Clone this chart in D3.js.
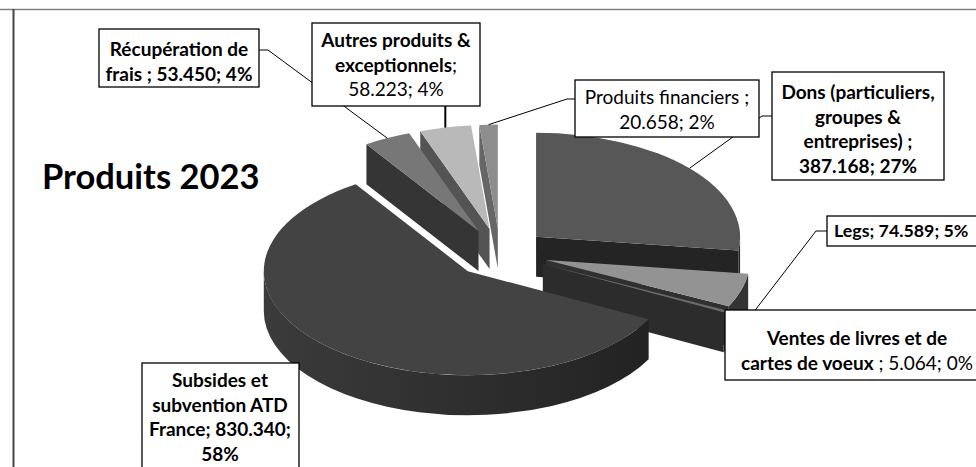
<!DOCTYPE html>
<meta charset="utf-8">
<script src="https://d3js.org/d3.v7.min.js"></script>
<style>
  body { margin: 0; background: #fff; }
  #chart svg { display: block; }
  #chart text { font-family: Lato, "Open Sans", sans-serif; fill: #000; }
</style>
<div id="chart"></div>
<script>
// data, clockwise from 12 o'clock (as in the spreadsheet)
var categories = ["Dons", "Legs", "Ventes", "Subsides", "Récupération", "Autres", "Financiers"];
var values = [387168, 74589, 5064, 830340, 53450, 58223, 20658];
var percents = [27, 5, 0, 58, 4, 4, 2];

// grey shades: top face, cut face, outer side (light -> dark)
var topColors  = ["#575757", "#939393", "#6c6c6c", "#434343", "#777777", "#b9b9b9", "#8d8d8d"];
var faceColors = ["#242424", "#303030", "#2c2c2c", "#2a2a2a", "#353535", "#545454", "#666666"];
var sideColors = [["#3a3a3a", "#2a2a2a"], ["#4a4a4a", "#333333"], ["#444444", "#303030"],
                  ["#3c3c3c", "#1c1c1c"], ["#3a3a3a", "#2a2a2a"], ["#555555", "#444444"], ["#666666", "#555555"]];

// label text, {v} = value, {p} = percent; 1 = bold
var labelLines = [
  [[["Dons (particuliers,", 1]], [["groupes &", 1]], [["entreprises) ;", 1]], [["{v}; {p}%", 1]]],
  [[["Legs; {v}; {p}%", 1]]],
  [[["Ventes de livres et de", 1]], [["cartes de voeux", 1], [" ; {v}; {p}%", 0]]],
  [[["Subsides et", 1]], [["subvention ATD", 1]], [["France; {v};", 1]], [["{p}%", 1]]],
  [[["Récupération de", 1]], [["frais ; {v}; {p}%", 1]]],
  [[["Autres produits &", 1]], [["exceptionnels", 1], [";", 0]], [["{v}; {p}%", 0]]],
  [[["Produits financiers ;", 0]], [["{v}; {p}%", 0]]]
];
// box x, y, w, h, text x, first baseline, anchor, font size
var labelBoxes = [
  [772, 72, 172, 108, 858, 99, "middle", 19],
  [827, 216, 180, 30, 834, 237, "start", 17.8],
  [725, 310, 270, 70, 857, 345, "middle", 19],
  [142, 363, 157, 125, 220, 387, "middle", 19],
  [99, 29, 160, 58, 179, 56, "middle", 19],
  [312, 23, 168, 83, 396, 47, "middle", 19],
  [575, 80, 184, 57, 667, 104, "middle", 19]
];
// leader: start points near the box, last point is on the slice (top or bottom rim)
var leaders = [
  [[772, 116], [762, 116]],
  [[827, 231], [816, 231]],
  null,
  null,
  [[259, 50], [268, 50]],
  [[null, 106]],
  [[575, 99], [567, 99]]
];
var leaderRim = [0, 0.95, 0, 0, 0, 0, 0];

var W = 976, H = 467;
var cx = 500, cy = 253, rx = 204, ry = 104, depth = 40, explode = 48;
var lineH = 24.5;

var nf = d3.formatLocale({ decimal: ",", thousands: ".", grouping: [3], currency: ["", ""] }).format(",d");

var svg = d3.select("#chart").append("svg")
  .attr("width", W).attr("height", H);

// frame
svg.append("line").attr("x1", 0).attr("x2", W).attr("y1", 9.5).attr("y2", 9.5)
  .attr("stroke", "#808080").attr("stroke-width", 1.5);
svg.append("line").attr("x1", 13.5).attr("x2", 13.5).attr("y1", 9).attr("y2", H)
  .attr("stroke", "#444").attr("stroke-width", 2);

svg.append("text").attr("x", 42).attr("y", 189)
  .attr("font-size", 34.5).attr("font-weight", "bold")
  .text("Produits 2023");

var arcs = d3.pie().sort(null).value(function(d) { return d; })(values);
arcs.forEach(function(a, i) {
  var mid = (a.startAngle + a.endAngle) / 2;
  a.i = i;
  a.c = [cx + explode * Math.sin(mid), cy - explode * (ry / rx) * Math.cos(mid)];
  a.mid = mid;
});

function pt(c, ang, dy) {
  return [c[0] + rx * Math.sin(ang), c[1] - ry * Math.cos(ang) + (dy || 0)];
}
function arcTo(p, large, sweep) {
  return "A" + rx + "," + ry + " 0 " + large + " " + sweep + " " + p[0] + "," + p[1];
}

var defs = svg.append("defs");
sideColors.forEach(function(c, i) {
  var g = defs.append("linearGradient").attr("id", "side" + i)
    .attr("gradientUnits", "userSpaceOnUse")
    .attr("x1", cx - rx - explode).attr("x2", cx + rx + explode).attr("y1", 0).attr("y2", 0);
  g.append("stop").attr("offset", "0%").attr("stop-color", c[0]);
  g.append("stop").attr("offset", "100%").attr("stop-color", c[1]);
});

var order = arcs.slice().sort(function(a, b) { return a.c[1] - b.c[1]; });
var sides = svg.append("g");
var tops = svg.append("g");

order.forEach(function(a) {
  var c = a.c, a0 = a.startAngle, a1 = a.endAngle;
  // cut faces
  [[a0, Math.sin(a0) < -1e-6], [a1, Math.sin(a1) > 1e-6]].forEach(function(f) {
    if (!f[1]) return;
    var p = pt(c, f[0]);
    sides.append("path")
      .attr("d", "M" + c + "L" + p + "L" + [p[0], p[1] + depth] + "L" + [c[0], c[1] + depth] + "Z")
      .attr("fill", faceColors[a.i]);
  });
  // outer rim (front half only)
  var v0 = Math.max(a0, Math.PI / 2), v1 = Math.min(a1, 3 * Math.PI / 2);
  if (v1 > v0) {
    var large = v1 - v0 > Math.PI ? 1 : 0;
    sides.append("path")
      .attr("d", "M" + pt(c, v0) + arcTo(pt(c, v1), large, 1) +
        "L" + pt(c, v1, depth) + arcTo(pt(c, v0, depth), large, 0) + "Z")
      .attr("fill", "url(#side" + a.i + ")");
  }
  // top face
  tops.append("path")
    .attr("d", "M" + c + "L" + pt(c, a0) + arcTo(pt(c, a1), a1 - a0 > Math.PI ? 1 : 0, 1) + "Z")
    .attr("fill", topColors[a.i]);
});

// leaders
var lineGen = d3.line();
arcs.forEach(function(a, i) {
  if (!leaders[i]) return;
  var end = pt(a.c, a.mid, leaderRim[i] * depth);
  var pts = leaders[i].map(function(p) { return [p[0] === null ? end[0] : p[0], p[1]]; });
  pts.push(end);
  svg.append("path").attr("d", lineGen(pts)).attr("fill", "none")
    .attr("stroke", "#000").attr("stroke-width", pts.length === 2 ? 2 : 1);
});

// labels
arcs.forEach(function(a, i) {
  var b = labelBoxes[i];
  var g = svg.append("g");
  g.append("rect").attr("x", b[0]).attr("y", b[1]).attr("width", b[2]).attr("height", b[3])
    .attr("fill", "#fff").attr("stroke", "#000").attr("stroke-width", 1.3);
  labelLines[i].forEach(function(line, k) {
    var t = g.append("text").attr("x", b[4]).attr("y", b[5] + k * lineH)
      .attr("text-anchor", b[6]).attr("font-size", b[7]);
    line.forEach(function(seg) {
      t.append("tspan")
        .attr("font-weight", seg[1] ? "bold" : "normal")
        .text(seg[0].replace("{v}", nf(values[i])).replace("{p}", percents[i]));
    });
  });
});
</script>
